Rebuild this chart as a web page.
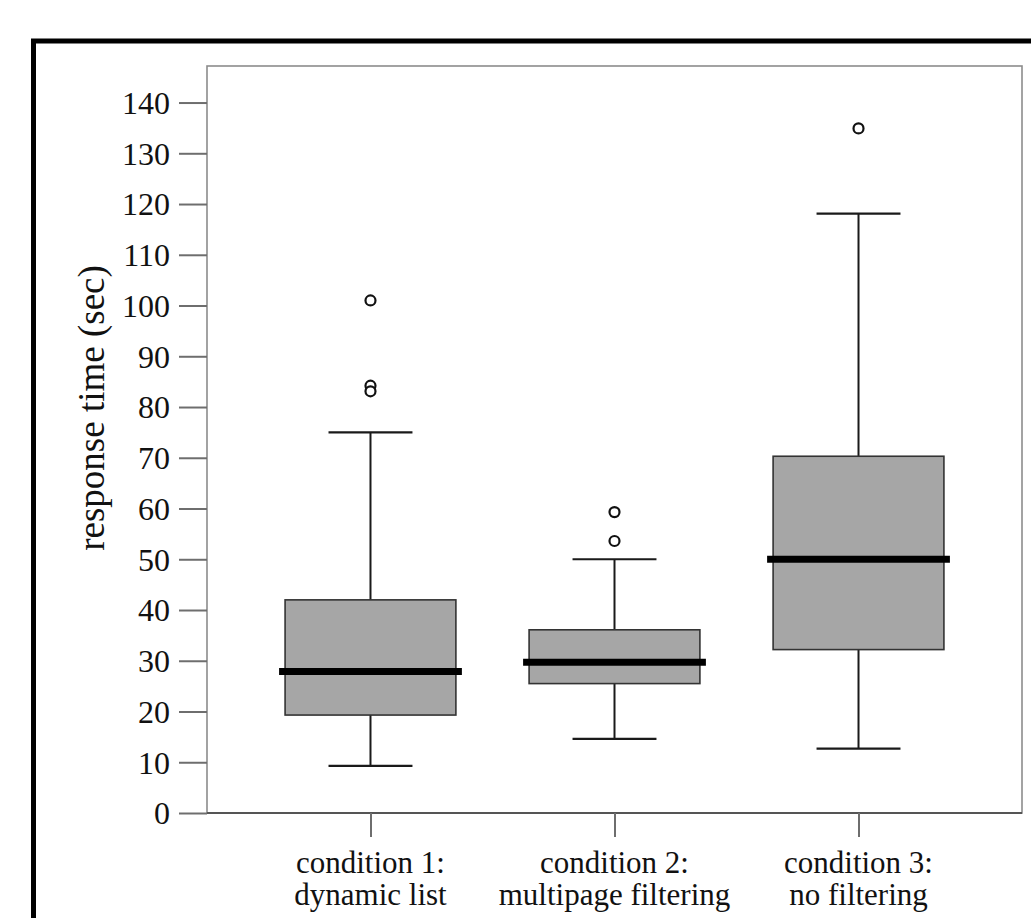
<!DOCTYPE html>
<html>
<head>
<meta charset="utf-8">
<script src="https://cdn.jsdelivr.net/npm/d3@7"></script>
<style>
  html, body { margin: 0; padding: 0; background: #fff; }
  svg { display: block; }
</style>
</head>
<body>
<div id="chart"></div>
<script>
const categories = ["condition 1", "condition 2", "condition 3"];
const labelLines = [
  ["condition 1:", "dynamic list"],
  ["condition 2:", "multipage filtering"],
  ["condition 3:", "no filtering"]
];
const whiskerLow = [9.3, 14.6, 12.7];
const q1 = [19.3, 25.5, 32.2];
const median = [27.9, 29.7, 50.0];
const q3 = [42.0, 36.1, 70.3];
const whiskerHigh = [75.0, 50.0, 118.1];
const outliers = [[101.0, 84.2, 83.1], [59.3, 53.6], [134.9]];
const yTicks = [0, 10, 20, 30, 40, 50, 60, 70, 80, 90, 100, 110, 120, 130, 140];

(function() {
  const FONT = "'Liberation Serif', 'Times New Roman', serif";
  const width = 1031;
  const height = 918;

  const plot = { left: 207, right: 1022, top: 66, bottom: 813 };

  const svg = d3
    .select("#chart")
    .append("svg")
    .attr("width", width)
    .attr("height", height);

  // outer black frame, cut off by the window on the right and bottom
  svg
    .append("rect")
    .attr("x", 33.5)
    .attr("y", 41)
    .attr("width", 1100)
    .attr("height", 1000)
    .attr("fill", "none")
    .attr("stroke", "#000")
    .attr("stroke-width", 5);

  const boxes = categories.map((c, i) => ({
    id: c,
    lines: labelLines[i],
    low: whiskerLow[i],
    q1: q1[i],
    med: median[i],
    q3: q3[i],
    high: whiskerHigh[i],
    out: outliers[i]
  }));

  const x = d3
    .scalePoint()
    .domain(categories)
    .range([plot.left, plot.right])
    .padding(0.67);

  const y = d3
    .scaleLinear()
    .domain([0, 147.2])
    .range([plot.bottom, plot.top]);

  const step = x.step();
  const boxHalf = step * 0.35;
  const capHalf = step * 0.172;
  const medHalf = boxHalf + 6;

  // plot frame
  svg
    .append("rect")
    .attr("x", plot.left)
    .attr("y", plot.top)
    .attr("width", plot.right - plot.left)
    .attr("height", plot.bottom - plot.top)
    .attr("fill", "none")
    .attr("stroke", "#8c8c8c")
    .attr("stroke-width", 1.6);

  svg
    .append("line")
    .attr("x1", plot.left)
    .attr("x2", plot.right)
    .attr("y1", plot.bottom)
    .attr("y2", plot.bottom)
    .attr("stroke", "#555")
    .attr("stroke-width", 1.8);

  // y axis
  const yAxis = svg
    .append("g")
    .attr("transform", `translate(${plot.left},0)`)
    .call(
      d3
        .axisLeft(y)
        .tickValues(yTicks)
        .tickSize(28)
        .tickPadding(9)
    );
  yAxis.select(".domain").remove();
  yAxis
    .selectAll(".tick line")
    .attr("stroke", "#6e6e6e")
    .attr("stroke-width", 2);
  yAxis
    .selectAll(".tick text")
    .attr("fill", "#111")
    .attr("dy", "0.34em")
    .style("font-family", FONT)
    .style("font-size", "32px");

  // x axis
  const xAxis = svg
    .append("g")
    .attr("transform", `translate(0,${plot.bottom})`)
    .call(
      d3
        .axisBottom(x)
        .tickSize(24)
        .tickFormat("")
    );
  xAxis.select(".domain").remove();
  xAxis
    .selectAll(".tick line")
    .attr("stroke", "#6e6e6e")
    .attr("stroke-width", 2);

  const xLabels = svg
    .append("g")
    .selectAll("text")
    .data(boxes)
    .enter()
    .append("text")
    .attr("text-anchor", "middle")
    .attr("fill", "#111")
    .style("font-family", FONT)
    .style("font-size", "31px");
  xLabels
    .selectAll("tspan")
    .data(d => d.lines.map(t => ({ t, cx: x(d.id) })))
    .enter()
    .append("tspan")
    .attr("x", d => d.cx)
    .attr("y", (d, i) => 873 + i * 32)
    .text(d => d.t);

  // y axis title
  svg
    .append("text")
    .attr("transform", "translate(104,408) rotate(-90)")
    .attr("text-anchor", "middle")
    .attr("fill", "#111")
    .style("font-family", FONT)
    .style("font-size", "37px")
    .text("response time (sec)");

  const g = svg.append("g");
  const groups = g
    .selectAll("g.box")
    .data(boxes)
    .enter()
    .append("g")
    .attr("class", "box");

  // whiskers
  groups
    .append("line")
    .attr("x1", d => x(d.id))
    .attr("x2", d => x(d.id))
    .attr("y1", d => y(d.high))
    .attr("y2", d => y(d.low))
    .attr("stroke", "#1a1a1a")
    .attr("stroke-width", 2);

  ["low", "high"].forEach(k => {
    groups
      .append("line")
      .attr("x1", d => x(d.id) - capHalf)
      .attr("x2", d => x(d.id) + capHalf)
      .attr("y1", d => y(d[k]))
      .attr("y2", d => y(d[k]))
      .attr("stroke", "#1a1a1a")
      .attr("stroke-width", 2.2);
  });

  // boxes
  groups
    .append("rect")
    .attr("x", d => x(d.id) - boxHalf)
    .attr("width", boxHalf * 2)
    .attr("y", d => y(d.q3))
    .attr("height", d => y(d.q1) - y(d.q3))
    .attr("fill", "#a6a6a6")
    .attr("stroke", "#333")
    .attr("stroke-width", 1.6);

  // medians
  groups
    .append("line")
    .attr("x1", d => x(d.id) - medHalf)
    .attr("x2", d => x(d.id) + medHalf)
    .attr("y1", d => y(d.med))
    .attr("y2", d => y(d.med))
    .attr("stroke", "#000")
    .attr("stroke-width", 7);

  // outliers
  groups
    .selectAll("circle")
    .data(d => d.out.map(v => ({ v, cx: x(d.id) })))
    .enter()
    .append("circle")
    .attr("cx", d => d.cx)
    .attr("cy", d => y(d.v))
    .attr("r", 5)
    .attr("fill", "#fff")
    .attr("stroke", "#111")
    .attr("stroke-width", 2.2);
})();
</script>
</body>
</html>
